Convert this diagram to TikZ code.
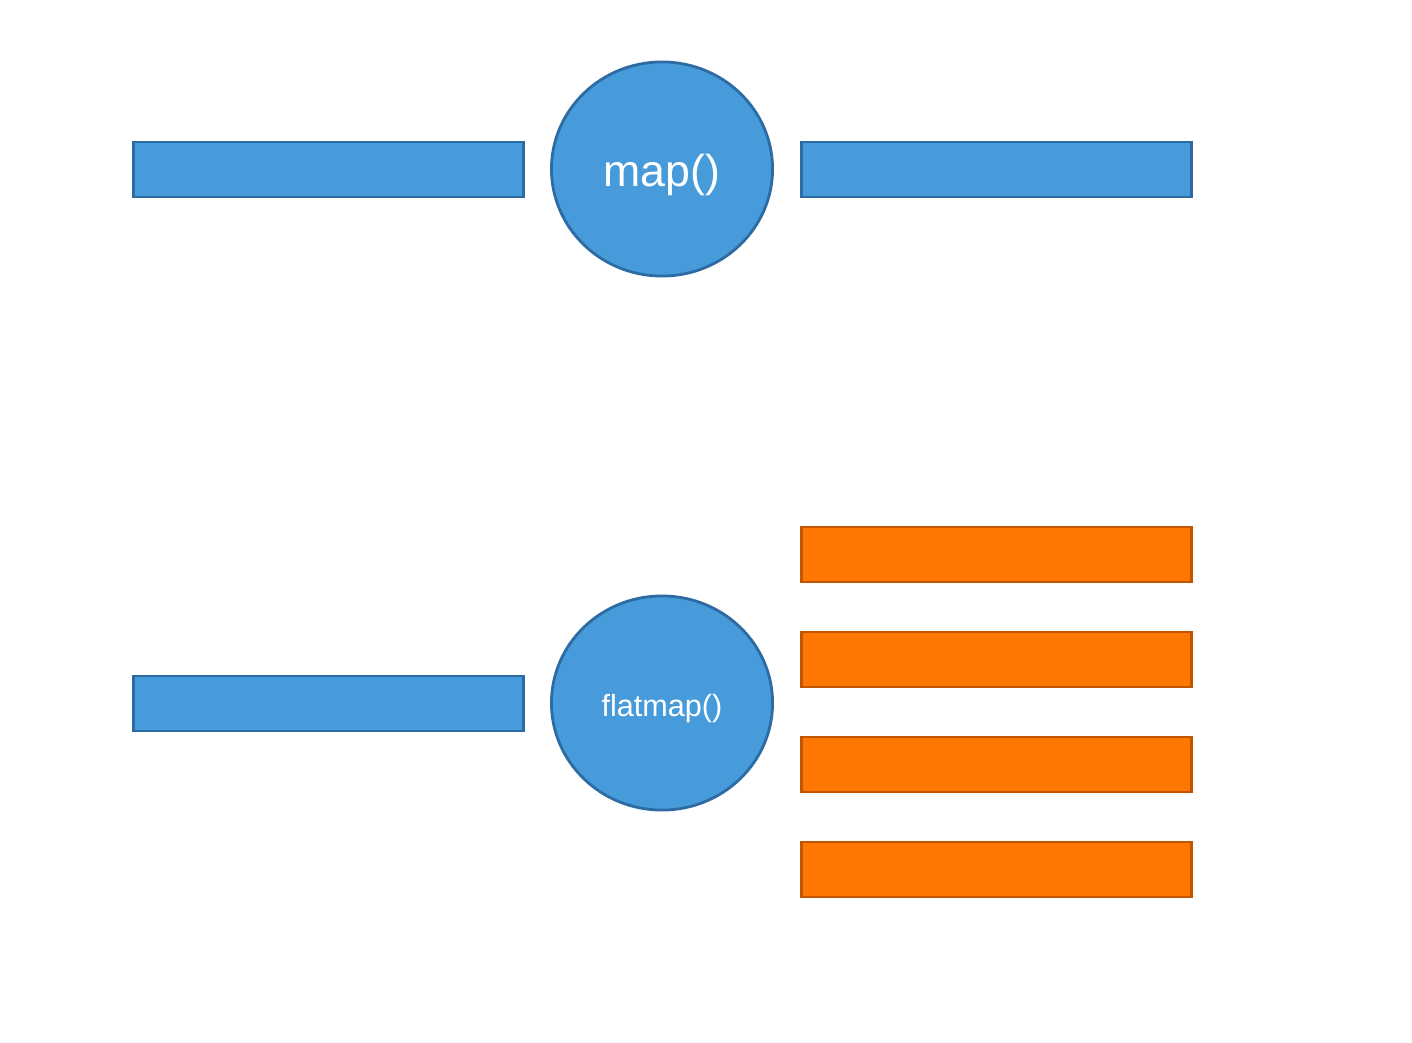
\documentclass[tikz,border=0pt]{standalone}
\usepackage{fontspec}
\setmainfont{Liberation Sans}
\usetikzlibrary{shapes.geometric}
\definecolor{bluefill}{RGB}{71,155,219}
\definecolor{blueline}{RGB}{45,108,163}
\definecolor{orfill}{RGB}{253,119,2}
\definecolor{orline}{RGB}{192,86,0}
\tikzset{
  bluebar/.style={draw=blueline, fill=bluefill, line width=0.8pt, rectangle, inner sep=0pt, minimum width=3.89cm, minimum height=0.55cm},
  orbar/.style={draw=orline, fill=orfill, line width=0.8pt, rectangle, inner sep=0pt, minimum width=3.89cm, minimum height=0.55cm},
  func/.style={draw=blueline, fill=bluefill, line width=0.8pt, ellipse, inner sep=0pt, minimum width=2.21cm, minimum height=2.14cm},
  functext/.style={text=white, yshift=-0.06cm, inner sep=0pt}
}
\begin{document}
\begin{tikzpicture}[x=0.01cm, y=-0.01cm]
\useasboundingbox (0,0) rectangle (1412,1042);
\node[bluebar] (in1) at (328.5,169.5) {};
\node[func, label={[functext, font=\fontsize{12.7}{14}\selectfont]center:map()}] (map) at (662,169) {};
\node[bluebar] (out1) at (996.5,169.5) {};
\node[bluebar] (in2) at (328.5,703.5) {};
\node[func, label={[functext, font=\fontsize{8.7}{10}\selectfont]center:flatmap()}] (flatmap) at (662,703) {};
\node[orbar] (o1) at (996.5,554.5) {};
\node[orbar] (o2) at (996.5,659.5) {};
\node[orbar] (o3) at (996.5,764.5) {};
\node[orbar] (o4) at (996.5,869.5) {};
\end{tikzpicture}
\end{document}
